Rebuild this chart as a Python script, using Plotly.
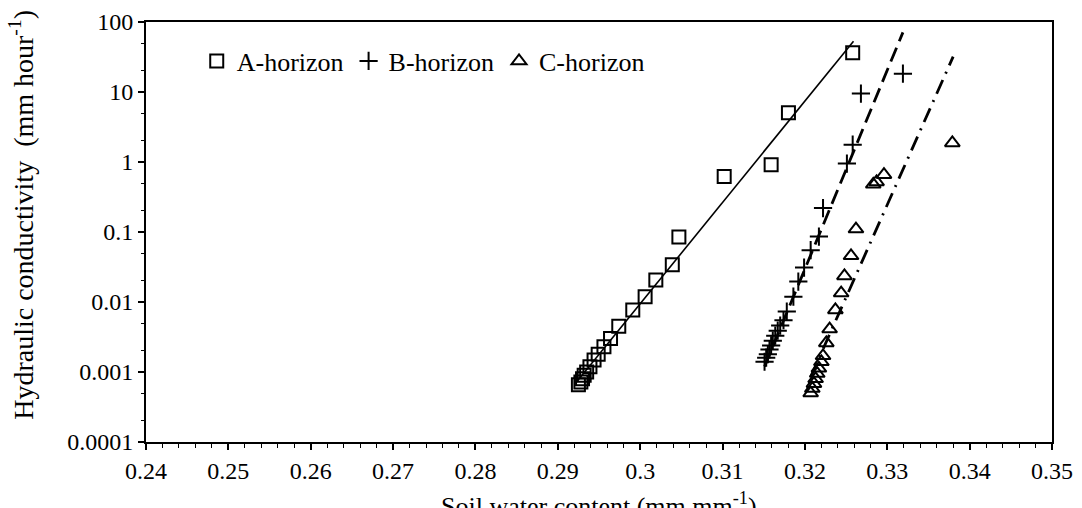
import plotly.graph_objects as go

# ---------------- data ----------------
a_theta = [0.2925, 0.2928, 0.2930, 0.2932, 0.2935, 0.2939, 0.2944, 0.2949, 0.2956, 0.2964,
           0.2974, 0.2991, 0.3006, 0.3019, 0.3039, 0.3047, 0.3102, 0.3159, 0.3180, 0.3258]
a_k = [0.00066, 0.00072, 0.00080, 0.00090, 0.00100, 0.00119, 0.00149, 0.0018, 0.0023, 0.0030,
       0.0045, 0.0077, 0.0119, 0.0207, 0.034, 0.0845, 0.62, 0.915, 5.07, 36.3]

b_theta = [0.3151, 0.3153, 0.3155, 0.3157, 0.3159, 0.3161, 0.3164, 0.3167, 0.3170, 0.3174,
           0.3178, 0.3186, 0.3192, 0.3199, 0.3207, 0.3217, 0.3222, 0.3251, 0.3258, 0.3268, 0.3319]
b_k = [0.0014, 0.0016, 0.0018, 0.0021, 0.0024, 0.0028, 0.0033, 0.0039, 0.0046, 0.0055,
       0.0073, 0.0119, 0.0196, 0.031, 0.055, 0.086, 0.22, 0.95, 1.77, 9.5, 18.3]

c_theta = [0.3207, 0.3209, 0.3211, 0.3213, 0.3215, 0.3217, 0.3220, 0.3222, 0.3226, 0.3230,
           0.3237, 0.3244, 0.3248, 0.3256, 0.3262, 0.3283, 0.3287, 0.3296, 0.3379]
c_k = [0.00050, 0.00058, 0.00068, 0.00080, 0.00095, 0.00113, 0.00140, 0.0017, 0.0026, 0.0041,
       0.0077, 0.0134, 0.0236, 0.0456, 0.11, 0.48, 0.52, 0.66, 1.87]

# fitted trend lines (end points)
a_fit_theta = [0.2922, 0.3259]
a_fit_k = [0.0007, 53]
b_fit_theta = [0.3151, 0.3319]
b_fit_k = [0.0012, 71]
c_fit_theta = [0.3207, 0.3380]
c_fit_k = [0.00085, 32]

x_ticks = [0.24, 0.25, 0.26, 0.27, 0.28, 0.29, 0.30, 0.31, 0.32, 0.33, 0.34, 0.35]
x_ticktext = ["0.24", "0.25", "0.26", "0.27", "0.28", "0.29", "0.3", "0.31", "0.32", "0.33", "0.34", "0.35"]
y_ticks = [0.0001, 0.001, 0.01, 0.1, 1, 10, 100]
y_ticktext = ["0.0001", "0.001", "0.01", "0.1", "1", "10", "100"]

FONT = "Liberation Serif"

fig = go.Figure()

# trend lines
fig.add_trace(go.Scatter(x=a_fit_theta, y=a_fit_k, mode="lines", showlegend=False, hoverinfo="skip",
                         line=dict(color="black", width=1.6)))
fig.add_trace(go.Scatter(x=b_fit_theta, y=b_fit_k, mode="lines", showlegend=False, hoverinfo="skip",
                         line=dict(color="black", width=2.8, dash="15px,7px")))
fig.add_trace(go.Scatter(x=c_fit_theta, y=c_fit_k, mode="lines", showlegend=False, hoverinfo="skip",
                         line=dict(color="black", width=2.8, dash="15px,7px,2px,7px")))

# data points
fig.add_trace(go.Scatter(x=a_theta, y=a_k, mode="markers", name="A-horizon",
                         marker=dict(symbol="square-open", size=13, color="black", line=dict(width=2, color="black"))))
fig.add_trace(go.Scatter(x=b_theta, y=b_k, mode="markers", name="B-horizon",
                         marker=dict(symbol="cross-thin-open", size=13, color="black", line=dict(width=2, color="black"))))
fig.add_trace(go.Scatter(x=c_theta, y=c_k, mode="markers", name="C-horizon",
                         marker=dict(symbol="triangle-up-open", size=13, color="black", line=dict(width=2, color="black"))))

fig.update_layout(
    width=1082, height=508,
    margin=dict(l=146, r=30, t=22, b=66, pad=0, autoexpand=False),
    paper_bgcolor="white", plot_bgcolor="white",
    font=dict(family=FONT, color="black", size=24),
    showlegend=True,
    legend=dict(orientation="h", x=0.056, y=0.963, xanchor="left", yanchor="top",
                font=dict(family=FONT, size=26, color="black"),
                bgcolor="rgba(0,0,0,0)", itemwidth=30, traceorder="normal"),
    xaxis=dict(range=[0.24, 0.35], tickvals=x_ticks, ticktext=x_ticktext,
               ticks="outside", ticklen=6, tickwidth=1.5, tickcolor="black",
               showline=True, linewidth=2, linecolor="black", mirror=True,
               showgrid=False, zeroline=False,
               tickfont=dict(family=FONT, size=24, color="black"),
               minor=dict(dtick=0.002, ticks="outside", ticklen=4, tickwidth=1.2,
                          tickcolor="black", showgrid=False)),
    yaxis=dict(type="log", range=[-4, 2], tickvals=y_ticks, ticktext=y_ticktext,
               ticks="outside", ticklen=6, tickwidth=1.5, tickcolor="black",
               showline=True, linewidth=2, linecolor="black", mirror=True,
               showgrid=False, zeroline=False,
               tickfont=dict(family=FONT, size=24, color="black"),
               minor=dict(ticks="outside", ticklen=3, tickwidth=1, tickcolor="black", showgrid=False)),
    annotations=[
        dict(text="Hydraulic conductivity  (mm hour<sup>-1</sup>)", textangle=-90,
             xref="paper", yref="paper", x=0, y=0.541, xanchor="center", yanchor="middle",
             xshift=-124, showarrow=False, font=dict(family=FONT, size=28, color="black")),
        dict(text="Soil water content (mm mm<sup>-1</sup>)",
             xref="paper", yref="paper", x=0.5, y=0, xanchor="center", yanchor="top",
             yshift=-44, showarrow=False, font=dict(family=FONT, size=26, color="black")),
    ],
)

fig.write_html("out.html")
